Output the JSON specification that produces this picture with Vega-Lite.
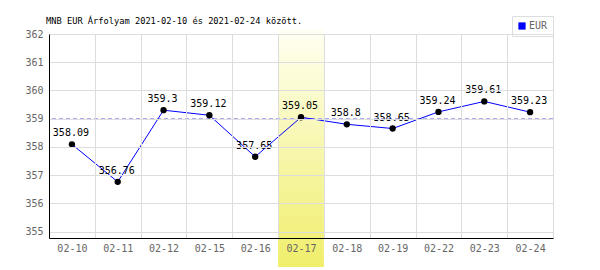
{
  "$schema": "https://vega.github.io/schema/vega-lite/v6.json",
  "autosize": "none",
  "width": 504,
  "height": 204,
  "padding": {"left": 49, "top": 34, "right": 47, "bottom": 32},
  "background": "white",
  "title": {
    "text": "MNB EUR Árfolyam 2021-02-10 és 2021-02-24 között.",
    "anchor": "start",
    "frame": "group",
    "font": "DejaVu Sans Mono",
    "fontSize": 8.7,
    "fontWeight": "normal",
    "color": "#000000",
    "baseline": "alphabetic",
    "offset": 9,
    "dx": -3,
    "dy": 26
  },
  "config": {
    "view": {"stroke": null},
    "axis": {"labelFont": "DejaVu Sans Mono", "labelFontSize": 10, "labelColor": "#666666", "gridColor": "#dddddd", "domainColor": "#000000", "domainWidth": 1, "title": null}
  },
  "datasets": {
    "rates": [
      {"day": "02-10", "rate": 358.09, "label": "358.09", "series": "EUR"},
      {"day": "02-11", "rate": 356.76, "label": "356.76", "series": "EUR"},
      {"day": "02-12", "rate": 359.3, "label": "359.3", "series": "EUR"},
      {"day": "02-15", "rate": 359.12, "label": "359.12", "series": "EUR"},
      {"day": "02-16", "rate": 357.65, "label": "357.65", "series": "EUR"},
      {"day": "02-17", "rate": 359.05, "label": "359.05", "series": "EUR"},
      {"day": "02-18", "rate": 358.8, "label": "358.8", "series": "EUR"},
      {"day": "02-19", "rate": 358.65, "label": "358.65", "series": "EUR"},
      {"day": "02-22", "rate": 359.24, "label": "359.24", "series": "EUR"},
      {"day": "02-23", "rate": 359.61, "label": "359.61", "series": "EUR"},
      {"day": "02-24", "rate": 359.23, "label": "359.23", "series": "EUR"}
    ]
  },
  "layer": [
    {
      "data": {"values": [{"day": "02-17", "top": 362.15, "bottom": 353.74}]},
      "mark": {"type": "rect", "fill": {"gradient": "linear", "x1": 0, "y1": 0, "x2": 0, "y2": 1, "stops": [{"offset": 0, "color": "#fffff2"}, {"offset": 1, "color": "#f0ee6a"}]}},
      "encoding": {
        "x": {"field": "day", "type": "ordinal", "scale": {"domain": ["02-10","02-11","02-12","02-15","02-16","02-17","02-18","02-19","02-22","02-23","02-24"], "paddingInner": 0, "paddingOuter": 0},
              "axis": {"tickBand": "extent", "ticks": false, "labelAngle": 0, "labelPadding": 5, "grid": true, "domain": true, "domainColor": "#000000"}},
        "y": {"field": "top", "type": "quantitative", "scale": {"domain": [354.77, 362], "nice": false, "zero": false},
              "axis": {"values": [355, 356, 357, 358, 359, 360, 361, 362], "tickCount": 8, "labelOverlap": false, "ticks": false, "labelPadding": 6, "grid": true, "domain": true, "domainColor": "#000000", "zindex": 1}},
        "y2": {"field": "bottom"}
      }
    },
    {
      "data": {"values": [{"ref": 359}]},
      "mark": {"type": "rule", "color": "#9c9cee", "strokeDash": [4, 3], "strokeWidth": 1},
      "encoding": {"y": {"field": "ref", "type": "quantitative",
              "axis": {"values": [355, 356, 357, 358, 359, 360, 361, 362], "tickCount": 8, "labelOverlap": false, "ticks": false, "labelPadding": 6, "grid": true, "domain": true, "domainColor": "#000000", "zindex": 1}}}
    },
    {
      "data": {"name": "rates"},
      "mark": {"type": "line", "strokeWidth": 1},
      "encoding": {
        "x": {"field": "day", "type": "ordinal"},
        "y": {"field": "rate", "type": "quantitative",
              "axis": {"values": [355, 356, 357, 358, 359, 360, 361, 362], "tickCount": 8, "labelOverlap": false, "ticks": false, "labelPadding": 6, "grid": true, "domain": true, "domainColor": "#000000", "zindex": 1}},
        "color": {"field": "series", "type": "nominal", "scale": {"domain": ["EUR"], "range": ["#0000ff"]},
          "legend": {"title": null, "orient": "none", "legendX": 463, "legendY": -18, "symbolType": "square", "symbolSize": 45, "labelFont": "DejaVu Sans Mono", "labelFontSize": 10, "labelColor": "#666666", "strokeColor": "#dddddd", "fillColor": "#ffffff", "padding": 5, "labelOffset": 2,
            "encode": {"symbols": {"update": {"fill": {"value": "#0000ff"}, "stroke": {"value": "#000080"}, "strokeWidth": {"value": 0.5}}}}}}
      }
    },
    {
      "data": {"name": "rates"},
      "mark": {"type": "point", "filled": true, "color": "#000000", "size": 40, "opacity": 1},
      "encoding": {
        "x": {"field": "day", "type": "ordinal"},
        "y": {"field": "rate", "type": "quantitative",
              "axis": {"values": [355, 356, 357, 358, 359, 360, 361, 362], "tickCount": 8, "labelOverlap": false, "ticks": false, "labelPadding": 6, "grid": true, "domain": true, "domainColor": "#000000", "zindex": 1}}
      }
    },
    {
      "data": {"name": "rates"},
      "mark": {"type": "text", "font": "DejaVu Sans Mono", "fontSize": 10, "color": "#000000", "dy": -8, "dx": -1, "baseline": "alphabetic"},
      "encoding": {
        "x": {"field": "day", "type": "ordinal"},
        "y": {"field": "rate", "type": "quantitative",
              "axis": {"values": [355, 356, 357, 358, 359, 360, 361, 362], "tickCount": 8, "labelOverlap": false, "ticks": false, "labelPadding": 6, "grid": true, "domain": true, "domainColor": "#000000", "zindex": 1}},
        "text": {"field": "label"}
      }
    }
  ]
}
